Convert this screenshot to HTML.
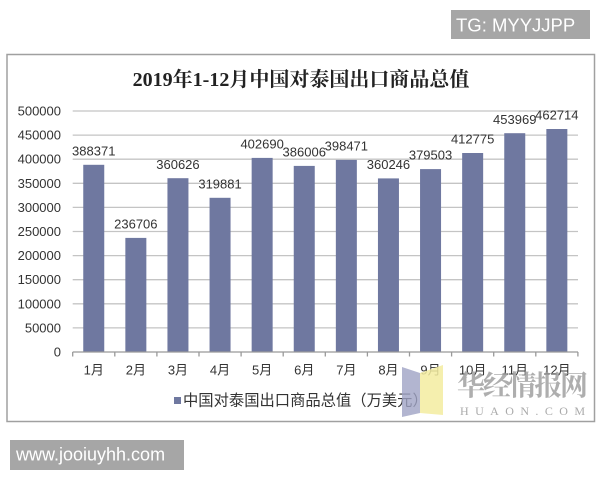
<!DOCTYPE html>
<html><head><meta charset="utf-8"><style>
html,body{margin:0;padding:0;background:#fff;width:600px;height:480px;overflow:hidden}
svg{display:block}
</style></head><body>
<svg width="600" height="480" viewBox="0 0 600 480" xmlns="http://www.w3.org/2000/svg">
<rect x="0" y="0" width="600" height="480" fill="#fff"/>
<!-- TG box -->
<rect x="451" y="10" width="139" height="29" fill="#a6a6a6"/>
<text x="456" y="31.5" font-family="Liberation Sans, sans-serif" font-size="18.5" fill="#fff">TG: MYYJJPP</text>
<!-- chart border -->
<rect x="7" y="54.5" width="587.5" height="367" fill="#fff" stroke="#a0a0a0" stroke-width="1.5"/>
<!-- title -->
<text x="301" y="86" text-anchor="middle" font-family="Liberation Serif, 'Noto Serif CJK SC', serif" font-size="20" font-weight="bold" fill="#222">2019年1-12月中国对泰国出口商品总值</text>
<!-- gridlines -->
<g stroke="#c4c4c4" stroke-width="1.3">
<line x1="72.7" x2="578" y1="111" y2="111"/>
<line x1="72.7" x2="578" y1="135.1" y2="135.1"/>
<line x1="72.7" x2="578" y1="159.2" y2="159.2"/>
<line x1="72.7" x2="578" y1="183.3" y2="183.3"/>
<line x1="72.7" x2="578" y1="207.4" y2="207.4"/>
<line x1="72.7" x2="578" y1="231.5" y2="231.5"/>
<line x1="72.7" x2="578" y1="255.6" y2="255.6"/>
<line x1="72.7" x2="578" y1="279.7" y2="279.7"/>
<line x1="72.7" x2="578" y1="303.8" y2="303.8"/>
<line x1="72.7" x2="578" y1="327.9" y2="327.9"/>
</g>
<!-- y labels -->
<g font-family="Liberation Sans, sans-serif" font-size="13" fill="#333" text-anchor="end">
<text x="61" y="115.5">500000</text>
<text x="61" y="139.6">450000</text>
<text x="61" y="163.7">400000</text>
<text x="61" y="187.8">350000</text>
<text x="61" y="211.9">300000</text>
<text x="61" y="236">250000</text>
<text x="61" y="260.1">200000</text>
<text x="61" y="284.2">150000</text>
<text x="61" y="308.3">100000</text>
<text x="61" y="332.4">50000</text>
<text x="61" y="356.5">0</text>
</g>
<!-- bars -->
<g fill="#6f78a0">
<rect x="83.25" y="164.8" width="21" height="187.2"/>
<rect x="125.35" y="237.9" width="21" height="114.1"/>
<rect x="167.45" y="178.2" width="21" height="173.8"/>
<rect x="209.55" y="197.8" width="21" height="154.2"/>
<rect x="251.65" y="157.9" width="21" height="194.1"/>
<rect x="293.75" y="165.9" width="21" height="186.1"/>
<rect x="335.85" y="159.9" width="21" height="192.1"/>
<rect x="377.95" y="178.4" width="21" height="173.6"/>
<rect x="420.05" y="169.1" width="21" height="182.9"/>
<rect x="462.15" y="153.0" width="21" height="199.0"/>
<rect x="504.25" y="133.2" width="21" height="218.8"/>
<rect x="546.35" y="129.0" width="21" height="223.0"/>
</g>
<!-- axis -->
<g stroke="#999" stroke-width="1.3">
<line x1="72.7" x2="578" y1="352" y2="352"/>
<line x1="72.7" x2="72.7" y1="352" y2="356.5"/>
<line x1="114.8" x2="114.8" y1="352" y2="356.5"/>
<line x1="156.9" x2="156.9" y1="352" y2="356.5"/>
<line x1="199" x2="199" y1="352" y2="356.5"/>
<line x1="241.1" x2="241.1" y1="352" y2="356.5"/>
<line x1="283.2" x2="283.2" y1="352" y2="356.5"/>
<line x1="325.3" x2="325.3" y1="352" y2="356.5"/>
<line x1="367.4" x2="367.4" y1="352" y2="356.5"/>
<line x1="409.5" x2="409.5" y1="352" y2="356.5"/>
<line x1="451.6" x2="451.6" y1="352" y2="356.5"/>
<line x1="493.7" x2="493.7" y1="352" y2="356.5"/>
<line x1="535.8" x2="535.8" y1="352" y2="356.5"/>
<line x1="577.9" x2="577.9" y1="352" y2="356.5"/>
</g>
<!-- data labels -->
<g font-family="Liberation Sans, sans-serif" font-size="13" fill="#333" text-anchor="middle">
<text x="93.75" y="155.5">388371</text>
<text x="135.85" y="228.5">236706</text>
<text x="177.95" y="168.8">360626</text>
<text x="220.05" y="188.4">319881</text>
<text x="262.15" y="148.5">402690</text>
<text x="304.25" y="156.5">386006</text>
<text x="346.35" y="150.5">398471</text>
<text x="388.45" y="169">360246</text>
<text x="430.55" y="159.7">379503</text>
<text x="472.65" y="143.6">412775</text>
<text x="514.75" y="123.8">453969</text>
<text x="556.85" y="119.6">462714</text>
</g>
<!-- month labels -->
<g font-family="Liberation Sans, 'Noto Sans CJK SC', sans-serif" font-size="13" fill="#333" text-anchor="middle">
<text x="93.75" y="374.5">1月</text>
<text x="135.85" y="374.5">2月</text>
<text x="177.95" y="374.5">3月</text>
<text x="220.05" y="374.5">4月</text>
<text x="262.15" y="374.5">5月</text>
<text x="304.25" y="374.5">6月</text>
<text x="346.35" y="374.5">7月</text>
<text x="388.45" y="374.5">8月</text>
<text x="430.55" y="374.5">9月</text>
<text x="472.65" y="374.5">10月</text>
<text x="514.75" y="374.5">11月</text>
<text x="556.85" y="374.5">12月</text>
</g>
<!-- legend -->
<rect x="174" y="397" width="7" height="7" fill="#6f78a0"/>
<text x="183" y="405.5" font-family="Liberation Sans, 'Noto Sans CJK SC', sans-serif" font-size="15.3" fill="#333">中国对泰国出口商品总值（万美元）</text>
<!-- watermark -->
<polygon points="402,367 420,373 420,413 402,417" fill="#9fa3c4" fill-opacity="0.8"/>
<polygon points="420,373 443,365 443,415 420,413" fill="#f3eca0" fill-opacity="0.85"/>
<text x="457" y="395" font-family="'Noto Serif CJK SC', serif" font-size="28" font-weight="bold" fill="#9a9a9a" fill-opacity="0.8" textLength="131">华经情报网</text>
<text x="460" y="415" font-family="Liberation Serif, serif" font-size="12" fill="#aaaaaa" textLength="125">HUAON.COM</text>
<!-- bottom box -->
<rect x="10" y="440" width="174" height="30" fill="#a6a6a6"/>
<text x="16" y="460.5" font-family="Liberation Sans, sans-serif" font-size="18" fill="#fff">www.jooiuyhh.com</text>
</svg>
</body></html>
